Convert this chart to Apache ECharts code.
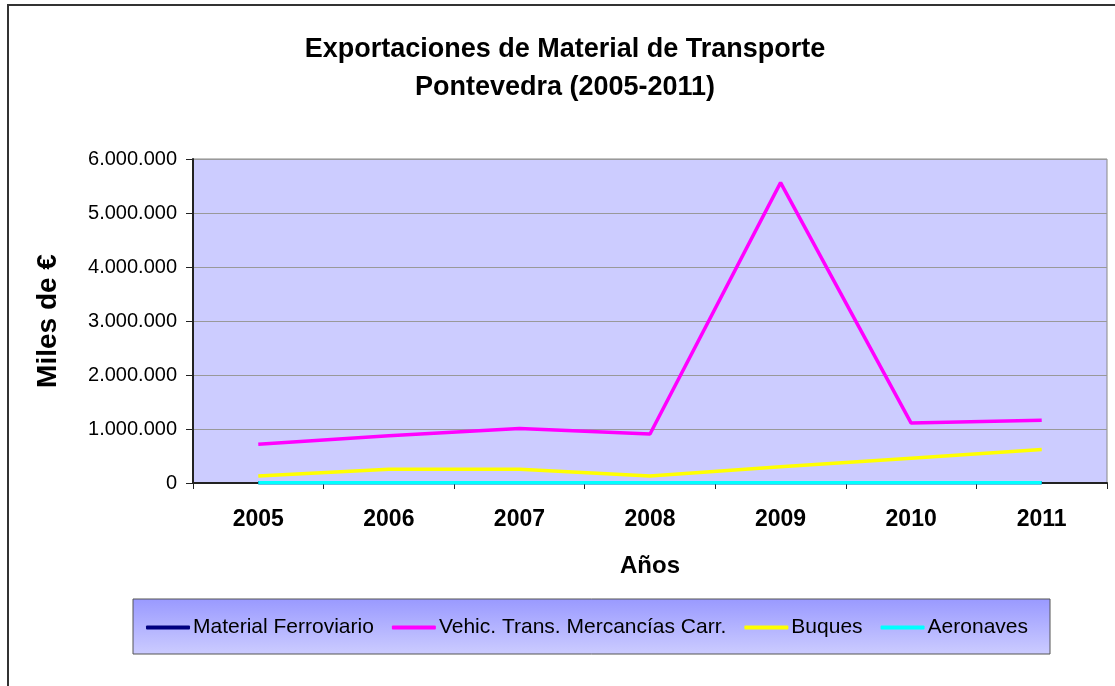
<!DOCTYPE html>
<html>
<head>
<meta charset="utf-8">
<script src="https://cdn.jsdelivr.net/npm/echarts@6/dist/echarts.min.js"></script>
<style>
html,body{margin:0;padding:0;background:#fff;}
#chart{width:1115px;height:686px;}
</style>
</head>
<body>
<div id="chart"></div>
<script>
var categories = ['2005','2006','2007','2008','2009','2010','2011'];
var ferroviario = [3000, 3000, 3000, 3000, 3000, 3000, 3000];
var vehiculos = [717000, 877000, 1007000, 907000, 5563000, 1110000, 1160000];
var buques = [130000, 253000, 253000, 130000, 300000, 460000, 620000];
var aeronaves = [5000, 5000, 5000, 5000, 5000, 5000, 5000];
var yTicks = [0, 1000000, 2000000, 3000000, 4000000, 5000000, 6000000];

var seriesNames = ['Material Ferroviario','Vehic. Trans. Mercancías Carr.','Buques','Aeronaves'];
var seriesColors = ['#000080','#FF00FF','#FFFF00','#00FFFF'];
var seriesData = [ferroviario, vehiculos, buques, aeronaves];

function fmt(v){
  return String(Math.round(v)).replace(/\B(?=(\d{3})+(?!\d))/g, '.');
}

var chart = echarts.init(document.getElementById('chart'), null, {renderer:'canvas'});
var font = 'Arial, "Liberation Sans", sans-serif';
chart.setOption({
  animation:false,
  backgroundColor:'#ffffff',
  textStyle:{fontFamily:font},
  graphic:[
    {type:'rect', z:-10, silent:true, shape:{x:8,y:5,width:1130,height:700},
     style:{fill:'#ffffff', stroke:'#333333', lineWidth:2}},
    {type:'rect', z:-5, silent:true, shape:{x:133,y:599,width:917,height:55},
     style:{fill:new echarts.graphic.LinearGradient(0,0,0,1,[{offset:0,color:'#9999FF'},{offset:1,color:'#CCCCFF'}]),
            stroke:'#555555', lineWidth:1}}
  ],
  title:{
    text:'Exportaciones de Material de Transporte\nPontevedra (2005-2011)',
    left:560, top:26, textAlign:'center',
    textStyle:{fontFamily:font, fontSize:27, fontWeight:'bold', color:'#000', lineHeight:38}
  },
  legend:{
    data:seriesNames,
    left:141, top:612, itemWidth:44, itemHeight:4, itemGap:18,
    icon:'roundRect',
    textStyle:{fontFamily:font, fontSize:21, color:'#000', padding:[0,0,0,-2]}
  },
  grid:{left:193, right:8, top:159, bottom:203, containLabel:false,
        show:true, backgroundColor:'#CCCCFF', borderColor:'#888888', borderWidth:1},
  xAxis:{
    type:'category', data:categories, boundaryGap:true,
    name:'Años', nameLocation:'middle', nameGap:71,
    nameTextStyle:{fontFamily:font, fontSize:24, fontWeight:'bold', color:'#000'},
    axisLine:{lineStyle:{color:'#222', width:2}},
    axisTick:{show:true, length:6, lineStyle:{color:'#222'}},
    axisLabel:{fontFamily:font, fontSize:23, fontWeight:'bold', color:'#000', margin:25}
  },
  yAxis:{
    type:'value', min:0, max:6000000, interval:1000000,
    name:'Miles de €', nameLocation:'middle', nameGap:131, nameRotate:90,
    nameTextStyle:{fontFamily:font, fontSize:28, fontWeight:'bold', color:'#000'},
    axisLine:{show:true, lineStyle:{color:'#222', width:2}},
    axisTick:{show:true, length:7, lineStyle:{color:'#222'}},
    splitLine:{show:true, lineStyle:{color:'#999999', width:1}},
    axisLabel:{fontFamily:font, fontSize:20, color:'#000', margin:16,
      formatter:function(v){ return yTicks.indexOf(v) >= 0 ? fmt(v) : ''; }}
  },
  series: seriesNames.map(function(n,i){
    return {name:n, type:'line', data:seriesData[i], symbol:'none',
      lineStyle:{color:seriesColors[i], width:3.5}, itemStyle:{color:seriesColors[i]}, z:2+i};
  })
});
</script>
</body>
</html>
